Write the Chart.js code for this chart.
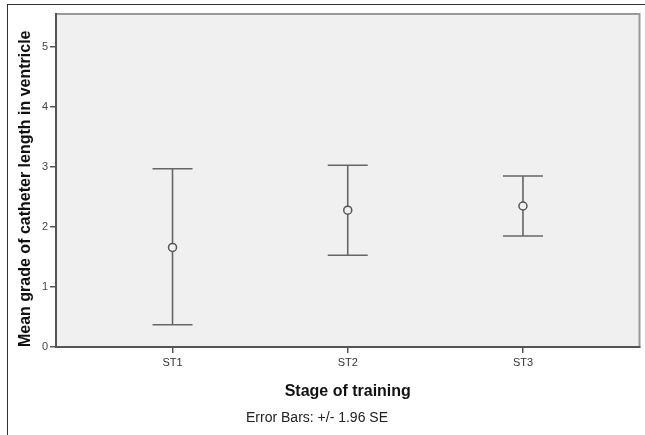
<!DOCTYPE html>
<html>
<head>
<meta charset="utf-8">
<script src="https://cdn.jsdelivr.net/npm/chart.js@4"></script>
<style>
  html, body { margin: 0; padding: 0; background: #fff; }
  #frame { position: absolute; left: 7px; top: 4px; width: 645px; height: 435px;
           border-top: 1px solid #333; border-left: 1px solid #333; }
  #wrap { position: absolute; left: 0; top: 0; width: 645px; height: 435px; }
</style>
</head>
<body>
<div id="frame"></div>
<div id="wrap"><canvas id="chart" width="645" height="435"></canvas></div>
<script>
// dados do gráfico
const categorias = ['ST1', 'ST2', 'ST3'];
const medias = [1.66, 2.28, 2.35];
const limiteInferior = [0.37, 1.53, 1.85];
const limiteSuperior = [2.97, 3.03, 2.85];
const yTicks = [0, 1, 2, 3, 4, 5];
const notaRodape = 'Error Bars: +/- 1.96 SE';

// fundo cinza da área do gráfico e borda superior/direita
const fundoPlugin = {
  id: 'fundo',
  beforeDraw: (chart) => {
    const { ctx, chartArea: a } = chart;
    ctx.save();
    ctx.fillStyle = '#f0f0f0';
    ctx.fillRect(a.left, a.top, a.right - a.left, a.bottom - a.top);
    ctx.strokeStyle = '#999';
    ctx.lineWidth = 2;
    ctx.beginPath();
    ctx.moveTo(a.left, a.top);
    ctx.lineTo(a.right, a.top);
    ctx.lineTo(a.right, a.bottom);
    ctx.stroke();
    ctx.restore();
  },
  // nota de rodapé
  afterDraw: (chart) => {
    const { ctx } = chart;
    ctx.save();
    ctx.font = '14px "Liberation Sans"';
    ctx.fillStyle = '#222';
    ctx.textAlign = 'center';
    ctx.textBaseline = 'middle';
    ctx.fillText(notaRodape, 317, 418);
    ctx.restore();
  }
};

// barras de erro (+/- 1.96 SE)
const barrasErroPlugin = {
  id: 'barrasErro',
  beforeDatasetsDraw: (chart) => {
    const { ctx, scales } = chart;
    const capa = 20;
    ctx.save();
    ctx.strokeStyle = '#666';
    ctx.lineWidth = 1.6;
    categorias.forEach((cat, i) => {
      const x = scales.x.getPixelForValue(i + 1);
      const yLo = scales.y.getPixelForValue(limiteInferior[i]);
      const yHi = scales.y.getPixelForValue(limiteSuperior[i]);
      ctx.beginPath();
      ctx.moveTo(x, yLo);
      ctx.lineTo(x, yHi);
      ctx.moveTo(x - capa, yLo);
      ctx.lineTo(x + capa, yLo);
      ctx.moveTo(x - capa, yHi);
      ctx.lineTo(x + capa, yHi);
      ctx.stroke();
    });
    ctx.restore();
  }
};

const ctx = document.getElementById('chart').getContext('2d');
const chart = new Chart(ctx, {
  type: 'scatter',
  data: {
    datasets: [{
      label: 'Média',
      data: medias.map((m, i) => ({ x: i + 1, y: m })),
      pointStyle: 'circle',
      pointRadius: 4,
      pointBorderWidth: 1.5,
      pointBorderColor: '#555',
      pointBackgroundColor: '#f0f0f0'
    }]
  },
  options: {
    responsive: false,
    animation: false,
    layout: { padding: { left: 16, top: 14, right: 3, bottom: 27 } },
    scales: {
      x: {
        type: 'linear',
        min: 0.335,
        max: 3.665,
        afterFit: (scale) => { scale.height = 61; },
        afterBuildTicks: (scale) => { scale.ticks = categorias.map((c, i) => ({ value: i + 1 })); },
        ticks: {
          callback: (v) => categorias[v - 1] || '',
          font: { family: 'Liberation Sans', size: 11 },
          color: '#333',
          padding: 3,
          maxRotation: 0
        },
        grid: { drawOnChartArea: false, drawTicks: true, tickLength: 6, color: '#555', lineWidth: 1.5 },
        border: { color: '#555', width: 2 },
        title: {
          display: true,
          text: 'Stage of training',
          font: { family: 'Liberation Sans', weight: 'bold', size: 16 },
          color: '#111',
          padding: { top: 0, bottom: 7 }
        }
      },
      y: {
        min: 0,
        max: 5.55,
        afterFit: (scale) => { scale.width = 40; },
        afterBuildTicks: (scale) => { scale.ticks = yTicks.map(v => ({ value: v })); },
        ticks: {
          font: { family: 'Liberation Sans', size: 11 },
          color: '#444',
          padding: 2
        },
        grid: { drawOnChartArea: false, drawTicks: true, tickLength: 6, color: '#555', lineWidth: 1.5 },
        border: { color: '#555', width: 2 },
        title: {
          display: true,
          align: 'start',
          text: 'Mean grade of catheter length in ventricle',
          font: { family: 'Liberation Sans', weight: 'bold', size: 16 },
          color: '#111',
          padding: { top: 0, bottom: 0 }
        }
      }
    },
    plugins: {
      legend: { display: false },
      tooltip: { enabled: false },
      title: { display: false }
    }
  },
  plugins: [fundoPlugin, barrasErroPlugin]
});
</script>
</body>
</html>
